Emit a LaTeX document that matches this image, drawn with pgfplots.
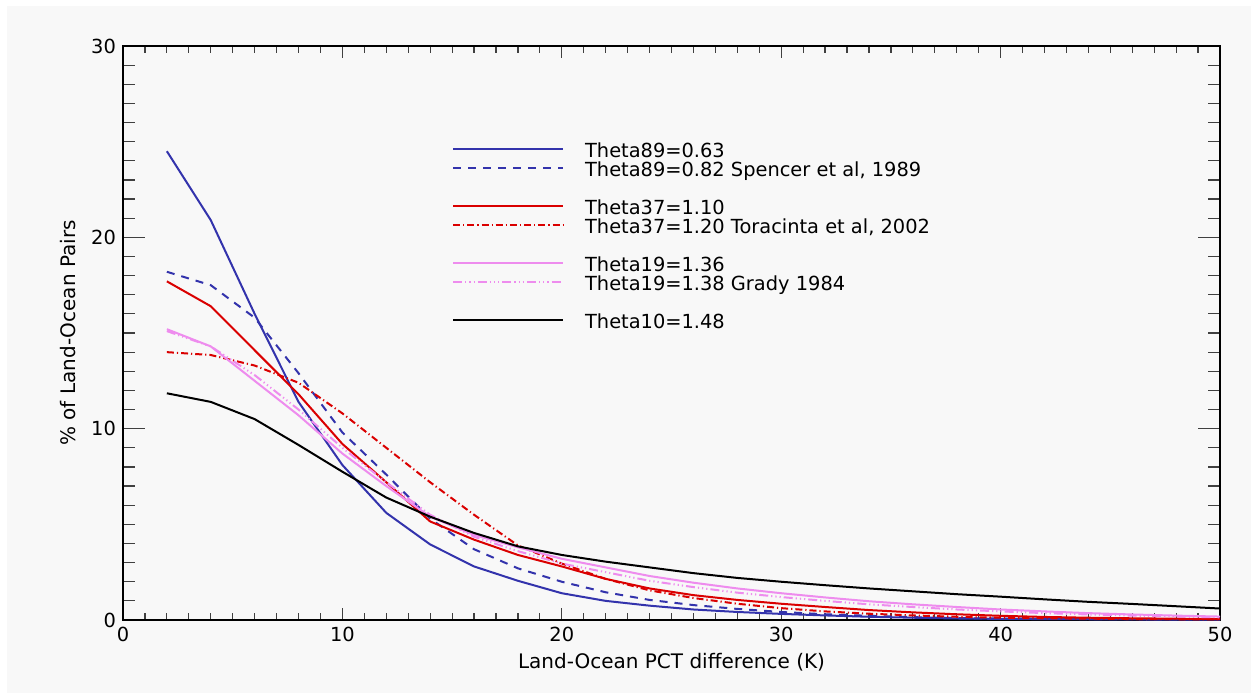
\documentclass[border=0pt]{standalone}
\usepackage{fontspec}
\setmainfont{DejaVu Sans}
\usepackage{pgfplots}
\usepackage{pgfplotstable}
\pgfplotsset{compat=1.18}

\definecolor{bggray}{RGB}{248,248,248}
\definecolor{idlblue}{RGB}{51,51,172}
\definecolor{idlred}{RGB}{218,0,0}
\definecolor{idlpink}{RGB}{238,140,238}

\newcommand{\lf}{\fontsize{9.7pt}{11pt}\selectfont}

% x = Land-Ocean PCT difference (K), columns = % of pairs
\pgfplotstableread{
x  bA    bB    rA    rB    pA    pB    k
2  24.5  18.2  17.7  14.0  15.2  15.1  11.85
4  20.9  17.5  16.4  13.85 14.3  14.3  11.4
6  16.0  15.8  14.1  13.3  12.5  12.8  10.5
8  11.4  12.9  11.8  12.4  10.7  11.0  9.15
10 8.1   9.8   9.2   10.8  8.7   9.0   7.75
12 5.6   7.6   7.2   9.0   7.0   7.2   6.4
14 3.95  5.3   5.15  7.2   5.4   5.5   5.4
16 2.8   3.7   4.2   5.5   4.45  4.35  4.55
18 2.05  2.7   3.4   3.9   3.8   3.6   3.85
20 1.4   2.0   2.8   2.95  3.2   2.95  3.4
22 1.0   1.45  2.15  2.15  2.75  2.5   3.05
24 0.75  1.05  1.65  1.55  2.3   2.05  2.75
26 0.55  0.78  1.3   1.15  1.95  1.72  2.45
28 0.42  0.58  1.05  0.85  1.65  1.43  2.2
30 0.32  0.42  0.85  0.62  1.4   1.2   2.0
32 0.24  0.3   0.68  0.45  1.18  1.0   1.82
34 0.17  0.22  0.52  0.33  0.98  0.82  1.65
36 0.12  0.15  0.4   0.24  0.82  0.68  1.5
38 0.08  0.1   0.3   0.17  0.68  0.55  1.35
40 0.06  0.08  0.22  0.12  0.55  0.45  1.22
42 0.05  0.06  0.16  0.09  0.45  0.36  1.08
44 0.04  0.05  0.12  0.07  0.36  0.29  0.95
46 0.03  0.04  0.09  0.05  0.29  0.23  0.84
48 0.02  0.03  0.07  0.04  0.23  0.18  0.72
50 0.02  0.03  0.05  0.03  0.18  0.14  0.6
}\pctdata

\begin{document}
\begin{tikzpicture}
\fill[white] (-61.5pt,-36.5pt) rectangle (564pt,310pt);
\fill[bggray] (-58pt,-36.5pt) rectangle (564pt,307pt);
\begin{axis}[
    width=548.5pt, height=287pt,
    scale only axis,
    xmin=0, xmax=50, ymin=0, ymax=30,
    xtick={0,10,...,50}, ytick={0,10,20,30},
    minor x tick num=9, minor y tick num=9,
    tick align=inside,
    axis line style={line width=0.6pt},
    every tick/.style={black!75, line width=0.6pt},
    xtick style={/pgfplots/major tick length=5.8pt, /pgfplots/minor tick length=3.3pt},
    ytick style={/pgfplots/major tick length=11pt, /pgfplots/minor tick length=5.8pt},
    /pgf/number format/assume math mode=true,
    tick label style={font=\lf},
    label style={font=\lf},
    xlabel={Land-Ocean PCT difference (K)},
    ylabel={\% of Land-Ocean Pairs},
    every axis x label/.style={at={(axis description cs:0.5,0)}, anchor=center, yshift=-21pt},
    every axis y label/.style={at={(axis description cs:0,0.5)}, xshift=-27.5pt, rotate=90, anchor=center},
    legend cell align=left,
    legend image code/.code={\draw[#1] (0pt,2.2pt) -- (55pt,2.2pt);},
    legend style={at={(axis cs:15,24.88)}, anchor=north west, draw=none, fill=none,
        inner sep=0pt, outer sep=0pt, row sep=0pt, font=\lf,
        nodes={inner sep=0pt, text height=7pt, text depth=2.5pt},
        /tikz/every odd column/.append style={column sep=10.5pt}},
]
\addplot[idlblue, line width=1pt] table[x=x, y=bA] {\pctdata};
\addlegendentry{Theta89=0.63}
\addplot[idlblue, line width=1pt, dash pattern=on 4pt off 3.5pt] table[x=x, y=bB] {\pctdata};
\addlegendentry{Theta89=0.82 Spencer et al, 1989}
\addlegendimage{empty legend}\addlegendentry{}
\addplot[idlred, line width=1pt] table[x=x, y=rA] {\pctdata};
\addlegendentry{Theta37=1.10}
\addplot[idlred, line width=1pt, dash pattern=on 3.5pt off 1.5pt on 0.6pt off 1.5pt] table[x=x, y=rB] {\pctdata};
\addlegendentry{Theta37=1.20 Toracinta et al, 2002}
\addlegendimage{empty legend}\addlegendentry{}
\addplot[idlpink, line width=1pt] table[x=x, y=pA] {\pctdata};
\addlegendentry{Theta19=1.36}
\addplot[idlpink, line width=1pt, dash pattern=on 4.5pt off 1.5pt on 0.6pt off 1.5pt on 0.6pt off 1.5pt on 0.6pt off 1.5pt] table[x=x, y=pB] {\pctdata};
\addlegendentry{Theta19=1.38 Grady 1984}
\addlegendimage{empty legend}\addlegendentry{}
\addplot[black, line width=1pt] table[x=x, y=k] {\pctdata};
\addlegendentry{Theta10=1.48}
\end{axis}
\pgfresetboundingbox
\useasboundingbox (-61.5pt,-36.5pt) rectangle (564pt,310pt);
\end{tikzpicture}
\end{document}
